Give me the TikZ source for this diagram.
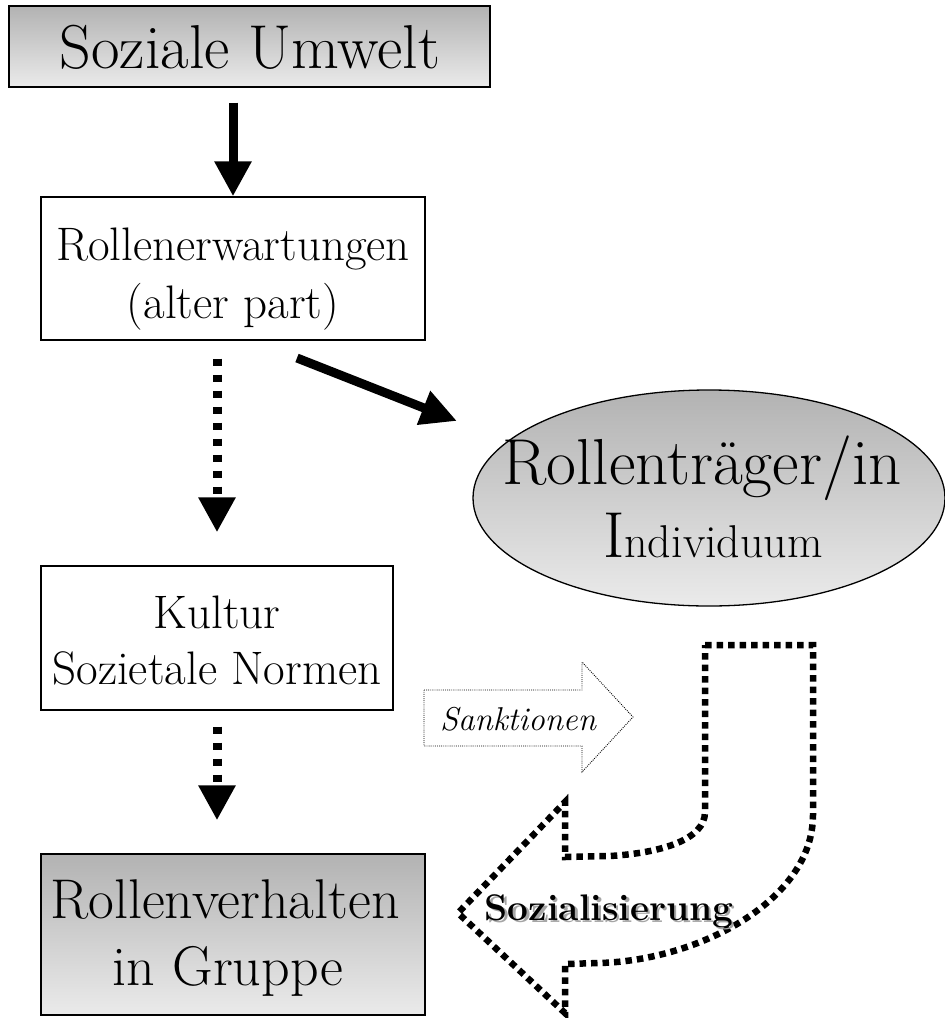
\documentclass[tikz,border=0pt]{standalone}
\usepackage{fontspec}
\usetikzlibrary{arrows.meta,shapes.geometric}
\begin{document}
\begin{tikzpicture}[x=1pt,y=-1pt,
  shadebox/.style={draw=black, line width=1.3pt, top color=black!30, bottom color=black!8, inner sep=0pt},
  plainbox/.style={draw=black, line width=1.3pt, fill=white, inner sep=0pt},
  lbl/.style={anchor=base, inner sep=0pt},
  solidarr/.style={line width=9pt, -{Triangle[width=35pt,length=35pt]}},
  dotarr/.style={line width=9pt, dash pattern=on 7pt off 9pt, -{Triangle[width=35pt,length=35pt]}},
  thindots/.style={line width=0.9pt, dash pattern=on 0.9pt off 1.2pt},
  thickdots/.style={line width=6.5pt, dash pattern=on 6.5pt off 5pt},
]
\useasboundingbox (0,0) rectangle (945,1018);

% boxes
\node[shadebox, minimum width=481pt, minimum height=81pt] (su) at (249.5,46.5) {};
\node[lbl, font=\fontsize{62}{64}\selectfont] (sut) at (250,68) {Soziale Umwelt};

\node[plainbox, minimum width=384pt, minimum height=143pt] (re) at (233,268.5) {};
\node[lbl, font=\fontsize{47}{50}\selectfont] (ret1) at (233,260) {Rollenerwartungen};
\node[lbl, font=\fontsize{47}{50}\selectfont] (ret2) at (233,318) {(alter part)};

\node[plainbox, minimum width=352pt, minimum height=144pt] (ku) at (217,638) {};
\node[lbl, font=\fontsize{47}{50}\selectfont] (kut1) at (217,628) {Kultur};
\node[lbl, font=\fontsize{47}{50}\selectfont] (kut2) at (217,684) {Sozietale Normen};

\node[shadebox, minimum width=384pt, minimum height=161pt] (rv) at (233,934.5) {};
\node[lbl, font=\fontsize{56}{58}\selectfont] (rvt1) at (225,918) {Rollenverhalten};
\node[lbl, font=\fontsize{56}{58}\selectfont] (rvt2) at (228,985) {in Gruppe};

% ellipse
\node[ellipse, shadebox, minimum width=472pt, minimum height=216pt] (rt) at (709,498) {};
\node[lbl, font=\fontsize{65}{68}\selectfont] (rtt1) at (702,484) {Rollenträger/in};
\node[lbl] (rtt2) at (713,557) {{\fontsize{65}{68}\selectfont I}{\fontsize{46}{48}\selectfont ndividuum}};

% connectors
\draw[solidarr, shorten <=15pt] (su.south -| re.north) -- (re.north);
\draw[dotarr, shorten <=18pt, shorten >=33pt] (re.south -| ku.north) -- (ku.north);
\draw[dotarr, shorten <=16pt, shorten >=33pt] (ku.south) -- (ku.south |- rv.north);
\coordinate (dg1) at (297,358);
\coordinate (dg2) at (457,421);
\draw[line width=9pt, -{Triangle[width=34pt,length=36pt]}] (dg1) -- (dg2);

% Sanktionen block arrow
\draw[thindots] (424,690) -- (582,690) -- (582,662) -- (633,717) -- (582,772) -- (582,746) -- (424,746) -- cycle;
\node[lbl, font=\itshape\fontsize{33}{36}\selectfont] (sk) at (518,730) {Sanktionen};

% Sozialisierung U-turn arrow
\draw[thickdots] (705,645) -- (813,645) -- (813,815)
  .. controls (813,900) and (700,960) .. (600,963) -- (565,964) -- (565,1013)
  -- (458,913) -- (565,802) -- (565,857) -- (610,856)
  .. controls (660,853) and (705,840) .. (705,812) -- cycle;
\node[lbl, font=\bfseries\fontsize{37}{40}\selectfont] (soz) at (609,920)
  {\rlap{\hspace{2.5pt}\raisebox{-2.5pt}{\color{black!35}Sozialisierung}}Sozialisierung};
\end{tikzpicture}
\end{document}
